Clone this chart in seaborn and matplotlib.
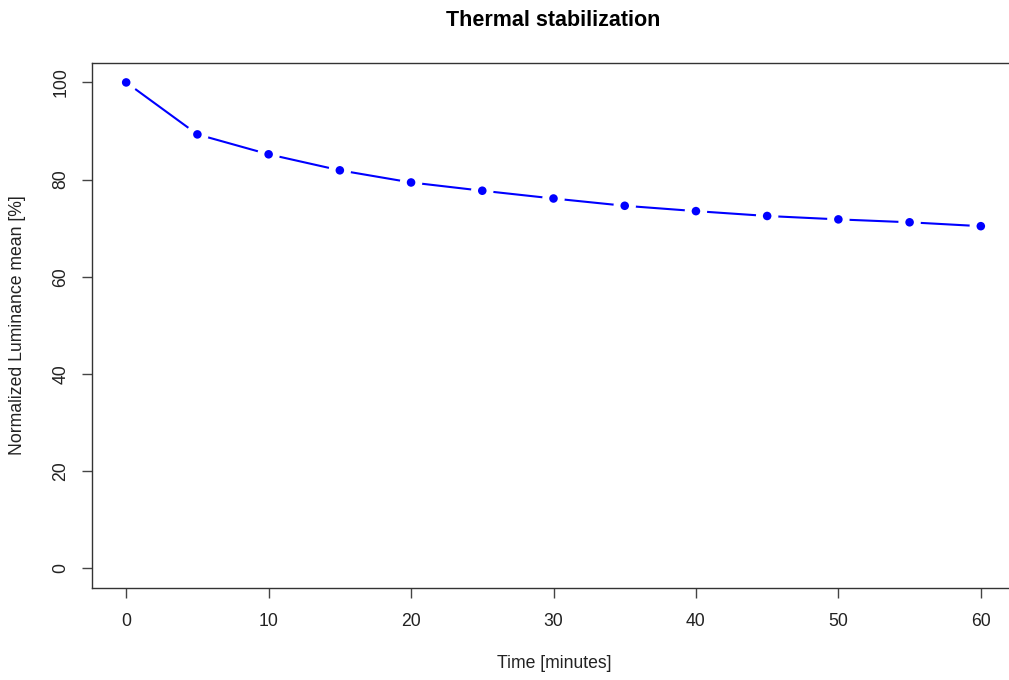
import matplotlib
matplotlib.use("Agg")
import matplotlib.pyplot as plt
import seaborn as sns
import pandas as pd

# Measurement data
time_min = [0, 5, 10, 15, 20, 25, 30, 35, 40, 45, 50, 55, 60]
lum_mean = [100.0, 89.3, 85.2, 81.9, 79.4, 77.7, 76.1, 74.6, 73.5, 72.5, 71.8, 71.2, 70.4]
x_ticks = [0, 10, 20, 30, 40, 50, 60]
y_ticks = [0, 20, 40, 60, 80, 100]

sns.set_style("white")
plt.rcParams['font.family'] = ['Liberation Sans', 'DejaVu Sans']

df = pd.DataFrame({"time": time_min, "lum": lum_mean})

W, H = 1009, 680
fig = plt.figure(figsize=(W / 100, H / 100), dpi=100)
ax = fig.add_axes([92 / W, 1 - 587.5 / H, (1015 - 92) / W, (587.5 - 63) / H])

# Connecting line, broken around each point by a white halo, then the points
sns.lineplot(data=df, x="time", y="lum", ax=ax, color="blue", linewidth=1.5, zorder=2)
sns.scatterplot(data=df, x="time", y="lum", ax=ax, color="white", s=260,
                edgecolor="none", zorder=2.5)
sns.scatterplot(data=df, x="time", y="lum", ax=ax, color="blue", s=38,
                edgecolor="none", zorder=3)

ax.set_xlim(-2.4, 62.4)
ax.set_ylim(-4, 104)
ax.set_xticks(x_ticks)
ax.set_yticks(y_ticks)
ax.set_xticklabels([str(v) for v in x_ticks], fontsize=12.7, color="#222222")
ax.set_yticklabels([str(v) for v in y_ticks], fontsize=12.7, color="#222222",
                   rotation=90, va="center")
ax.tick_params(axis="both", direction="out", length=7.2, width=1, color="#444444",
               bottom=True, left=True)
ax.tick_params(axis="x", pad=11.5)
ax.tick_params(axis="y", pad=9)

for s in ax.spines.values():
    s.set_visible(True)
    s.set_color("#333333")
    s.set_linewidth(1)

ax.set_xlabel("")
ax.set_ylabel("")
fig.text(554 / W, 1 - 663 / H, "Time [minutes]", ha="center", va="center",
         fontsize=12.7, color="#222222")
fig.text(18 / W, 1 - 325 / H, "Normalized Luminance mean [%]", ha="center", va="center",
         rotation=90, fontsize=12.7, color="#222222")
fig.text(553 / W, 1 - 20 / H, "Thermal stabilization", ha="center", va="center",
         fontsize=15.5, fontweight="bold", color="black")

fig.savefig("out.png", dpi=100)
